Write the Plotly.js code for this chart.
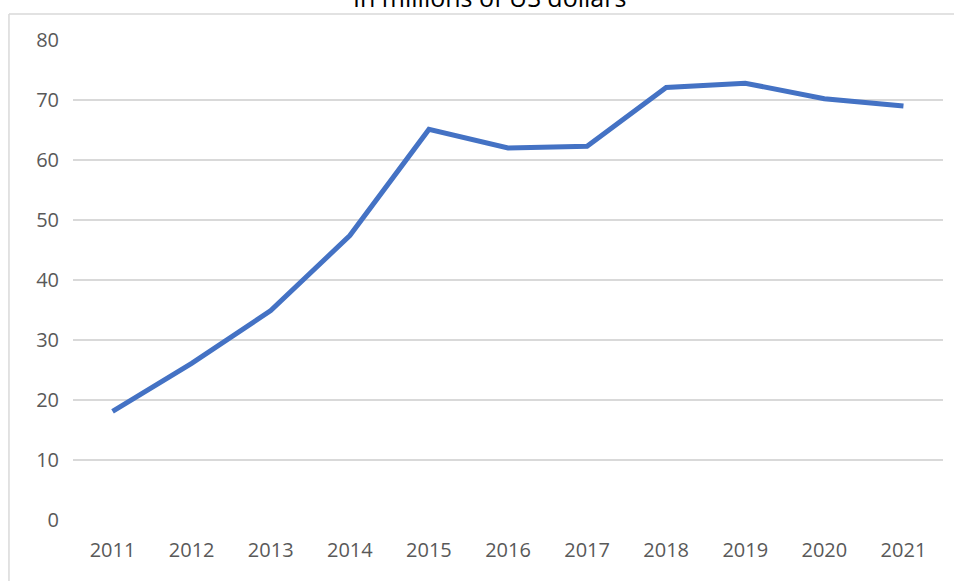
<!DOCTYPE html>
<html>
<head>
<meta charset="utf-8">
<script src="https://cdn.plot.ly/plotly-3.0.1.min.js"></script>
<style>
html, body {margin:0; padding:0; background:#fff;}
#chart {width:954px; height:581px;}
</style>
</head>
<body>
<div id="chart"></div>
<script>
// values, in millions of US dollars
var years = ['2011','2012','2013','2014','2015','2016','2017','2018','2019','2020','2021']
var revenue = [18.1, 26.1, 34.9, 47.4, 65.1, 62.0, 62.3, 72.1, 72.8, 70.2, 69.0]
var yTicks = [0, 10, 20, 30, 40, 50, 60, 70, 80]
var titleText = 'In millions of US dollars'

var tickFont = {family: 'Open Sans, sans-serif', size: 20, color: '#595959'}
var frameColor = '#d9d9d9'

var trace = {
    x: years,
    y: revenue,
    type: 'scatter',
    mode: 'lines',
    line: {color: '#4472C4', width: 5},
    hoverinfo: 'x+y'
}

var layout = {
    width: 954,
    height: 581,
    margin: {l: 73, r: 11, t: 40, b: 61},
    paper_bgcolor: '#ffffff',
    plot_bgcolor: '#ffffff',
    showlegend: false,
    xaxis: {
        type: 'category',
        range: [-0.5, 10.5],
        showgrid: false,
        zeroline: false,
        showline: false,
        ticks: '',
        tickfont: tickFont,
        ticklabelstandoff: 16
    },
    yaxis: {
        range: [0, 80],
        tickvals: yTicks,
        showgrid: true,
        gridcolor: frameColor,
        gridwidth: 2,
        zeroline: false,
        showline: false,
        ticks: '',
        tickfont: tickFont,
        ticklabelstandoff: 13
    },
    shapes: [
        // outer chart frame, cut by the crop
        {type: 'line', xref: 'paper', yref: 'paper', x0: -0.0736, x1: 1.02, y0: 1.054, y1: 1.054,
         line: {color: frameColor, width: 1.5}},
        {type: 'line', xref: 'paper', yref: 'paper', x0: -0.0736, x1: -0.0736, y0: 1.054, y1: -0.14,
         line: {color: frameColor, width: 1.5}}
    ],
    annotations: [
        // title sits above the frame and is cut by the crop, as in the source
        {text: titleText, xref: 'paper', yref: 'paper', x: 0.4785, y: 1.051,
         xanchor: 'center', yanchor: 'bottom', showarrow: false,
         font: {family: 'Open Sans, sans-serif', size: 25, color: '#000000'}}
    ]
}

Plotly.newPlot('chart', [trace], layout, {displayModeBar: false, staticPlot: true})
</script>
</body>
</html>
